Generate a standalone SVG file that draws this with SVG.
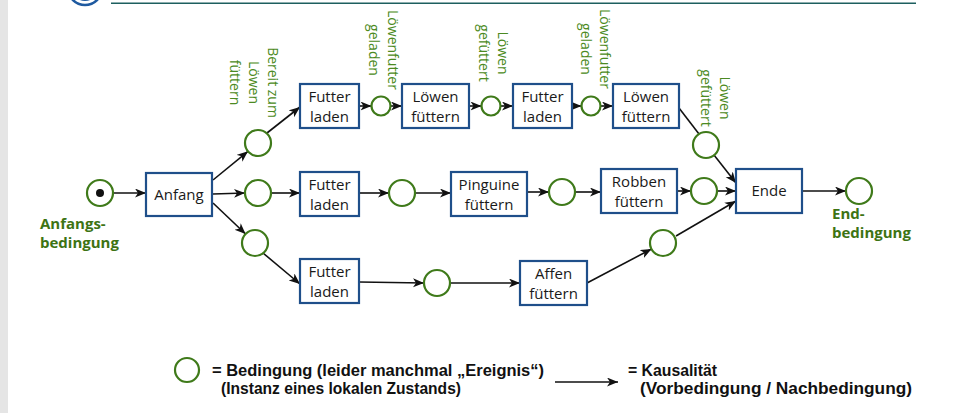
<svg xmlns="http://www.w3.org/2000/svg" width="954" height="413" viewBox="0 0 954 413">
<defs>
<marker id="ah" markerUnits="userSpaceOnUse" markerWidth="12" markerHeight="10" refX="11" refY="4.5" orient="auto">
<path d="M0,0 L11,4.5 L0,9 L3,4.5 Z" fill="#111"/>
</marker>
</defs>
<style>
.box{fill:#fff;stroke:#1f4f8a;stroke-width:2.2}
.pl{fill:#fff;stroke:#3f7a1a;stroke-width:2.2}
.t{font-family:"Open Sans","Noto Sans",sans-serif;font-size:15px;fill:#1a1a1a;text-anchor:middle}
.vl{font-family:"Open Sans","Noto Sans",sans-serif;font-size:14px;fill:#4b8a22;text-anchor:middle}
.bl{font-family:"Open Sans","Noto Sans",sans-serif;font-size:15px;font-weight:bold;fill:#3d7313}
.lg{font-family:"Liberation Sans",Arial,sans-serif;font-size:16px;font-weight:bold;fill:#111}
.c line{stroke:#111;stroke-width:1.6;fill:none}
.c .a{marker-end:url(#ah)}
</style>
<rect x="0" y="0" width="8" height="413" fill="#e5e5e5"/>
<g id="logo" fill="none" stroke="#1f5aa0">
<circle cx="85" cy="-12" r="17" stroke-width="2.5"/>
<circle cx="85" cy="-12" r="12" stroke-width="2"/>
</g>
<line x1="111" y1="3.3" x2="916" y2="3.3" stroke="#1d5f5f" stroke-width="1.6"/>

<g id="connectors" class="c">
<line class="a" x1="113" y1="193" x2="146" y2="193"/>
<line class="a" x1="213" y1="180" x2="248" y2="151.3"/>
<line class="a" x1="213" y1="194" x2="245" y2="193"/>
<line class="a" x1="213" y1="203" x2="245.6" y2="234"/>
<line class="a" x1="267" y1="133" x2="300" y2="107"/>
<line class="a" x1="271" y1="193" x2="300" y2="193"/>
<line class="a" x1="263" y1="253" x2="300" y2="284"/>
<line class="a" x1="359" y1="106" x2="371.5" y2="106"/>
<line class="a" x1="390.5" y1="106" x2="402" y2="106"/>
<line class="a" x1="469" y1="106" x2="481.5" y2="106"/>
<line class="a" x1="500.5" y1="106" x2="513" y2="106"/>
<line class="a" x1="572" y1="106" x2="581.5" y2="106"/>
<line class="a" x1="600.5" y1="106" x2="613" y2="106"/>
<line x1="679" y1="108" x2="699" y2="134"/>
<line class="a" x1="714" y1="155" x2="736" y2="183"/>
<line class="a" x1="359" y1="193" x2="389" y2="193"/>
<line class="a" x1="415" y1="193" x2="451" y2="193"/>
<line class="a" x1="527" y1="192" x2="549" y2="192"/>
<line class="a" x1="575" y1="192" x2="601" y2="192"/>
<line class="a" x1="677" y1="191" x2="691" y2="191"/>
<line class="a" x1="717" y1="191" x2="736" y2="191"/>
<line class="a" x1="676" y1="236" x2="736" y2="201"/>
<line class="a" x1="359" y1="282" x2="424" y2="283"/>
<line class="a" x1="450" y1="283" x2="520" y2="283"/>
<line class="a" x1="587" y1="283" x2="651.5" y2="249"/>
<line class="a" x1="802" y1="191" x2="846" y2="191"/>
<line class="a" x1="555" y1="382" x2="618" y2="382"/>
</g>

<g id="start"><circle class="pl" cx="100" cy="193" r="13"/><circle cx="100" cy="193" r="4" fill="#111"/></g>
<g id="startLabel"><text class="bl" x="40" y="229">Anfangs-</text><text class="bl" x="40" y="248">bedingung</text></g>
<g id="anfang"><rect class="box" x="146" y="173" width="66" height="43"/><text class="t" x="179" y="200">Anfang</text></g>

<g id="p_up"><circle class="pl" cx="258" cy="143" r="13"/></g>
<g id="p_mid"><circle class="pl" cx="258" cy="193" r="13"/></g>
<g id="p_low"><circle class="pl" cx="255" cy="243" r="13"/></g>
<g id="lbl1"><text class="vl" transform="translate(268,82.5) rotate(90)"><tspan x="0" y="0">Bereit zum</tspan><tspan x="0" y="19">Löwen</tspan><tspan x="0" y="38">füttern</tspan></text></g>

<g id="fl1"><rect class="box" x="300" y="84" width="59" height="44"/><text class="t" x="329.5" y="102">Futter</text><text class="t" x="329.5" y="122">laden</text></g>
<g id="p_t1"><circle class="pl" cx="381" cy="106" r="9.5"/></g>
<g id="lbl2"><text class="vl" transform="translate(388,50) rotate(90)"><tspan x="0" y="0">Löwenfutter</tspan><tspan x="0" y="19">geladen</tspan></text></g>
<g id="lf1"><rect class="box" x="402" y="84" width="67" height="44"/><text class="t" x="435.5" y="102">Löwen</text><text class="t" x="435.5" y="122">füttern</text></g>
<g id="p_t2"><circle class="pl" cx="491" cy="106" r="9.5"/></g>
<g id="lbl3"><text class="vl" transform="translate(498,53) rotate(90)"><tspan x="0" y="0">Löwen</tspan><tspan x="0" y="19">gefüttert</tspan></text></g>
<g id="fl2"><rect class="box" x="513" y="84" width="59" height="44"/><text class="t" x="542.5" y="102">Futter</text><text class="t" x="542.5" y="122">laden</text></g>
<g id="p_t3"><circle class="pl" cx="591" cy="106" r="9.5"/></g>
<g id="lbl4"><text class="vl" transform="translate(600,49) rotate(90)"><tspan x="0" y="0">Löwenfutter</tspan><tspan x="0" y="19">geladen</tspan></text></g>
<g id="lf2"><rect class="box" x="613" y="84" width="66" height="44"/><text class="t" x="646" y="102">Löwen</text><text class="t" x="646" y="122">füttern</text></g>
<g id="p_t4"><circle class="pl" cx="706" cy="145" r="13"/></g>
<g id="lbl5"><text class="vl" transform="translate(720,98) rotate(90)"><tspan x="0" y="0">Löwen</tspan><tspan x="0" y="19">gefüttert</tspan></text></g>

<g id="fl3"><rect class="box" x="300" y="172" width="59" height="44"/><text class="t" x="329.5" y="190">Futter</text><text class="t" x="329.5" y="210">laden</text></g>
<g id="p_m1"><circle class="pl" cx="402" cy="193" r="13"/></g>
<g id="pf"><rect class="box" x="451" y="172" width="76" height="44"/><text class="t" x="489" y="190">Pinguine</text><text class="t" x="489" y="210">füttern</text></g>
<g id="p_m2"><circle class="pl" cx="562" cy="192" r="13"/></g>
<g id="rf"><rect class="box" x="601" y="169" width="76" height="44"/><text class="t" x="639" y="187">Robben</text><text class="t" x="639" y="207">füttern</text></g>
<g id="p_m3"><circle class="pl" cx="704" cy="191" r="13"/></g>

<g id="fl4"><rect class="box" x="300" y="259" width="59" height="44"/><text class="t" x="329.5" y="277">Futter</text><text class="t" x="329.5" y="297">laden</text></g>
<g id="p_b1"><circle class="pl" cx="437" cy="283" r="13"/></g>
<g id="af"><rect class="box" x="520" y="261" width="67" height="44"/><text class="t" x="553.5" y="279">Affen</text><text class="t" x="553.5" y="299">füttern</text></g>
<g id="p_b2"><circle class="pl" cx="663" cy="243" r="13"/></g>

<g id="ende"><rect class="box" x="736" y="169" width="66" height="44"/><text class="t" x="769" y="196">Ende</text></g>
<g id="end"><circle class="pl" cx="859" cy="191" r="13"/></g>
<g id="endLabel"><text class="bl" x="832" y="219">End-</text><text class="bl" x="832" y="238">bedingung</text></g>

<g id="legend">
<circle class="pl" cx="187" cy="370" r="12"/>
<text class="lg" x="212" y="376" textLength="332" lengthAdjust="spacingAndGlyphs">= Bedingung (leider manchmal „Ereignis“)</text>
<text class="lg" x="221" y="394" textLength="240" lengthAdjust="spacingAndGlyphs">(Instanz eines lokalen Zustands)</text>
<text class="lg" x="628" y="376" textLength="89" lengthAdjust="spacingAndGlyphs">= Kausalität</text>
<text class="lg" x="640" y="394" textLength="272" lengthAdjust="spacingAndGlyphs">(Vorbedingung / Nachbedingung)</text>
</g>
</svg>
